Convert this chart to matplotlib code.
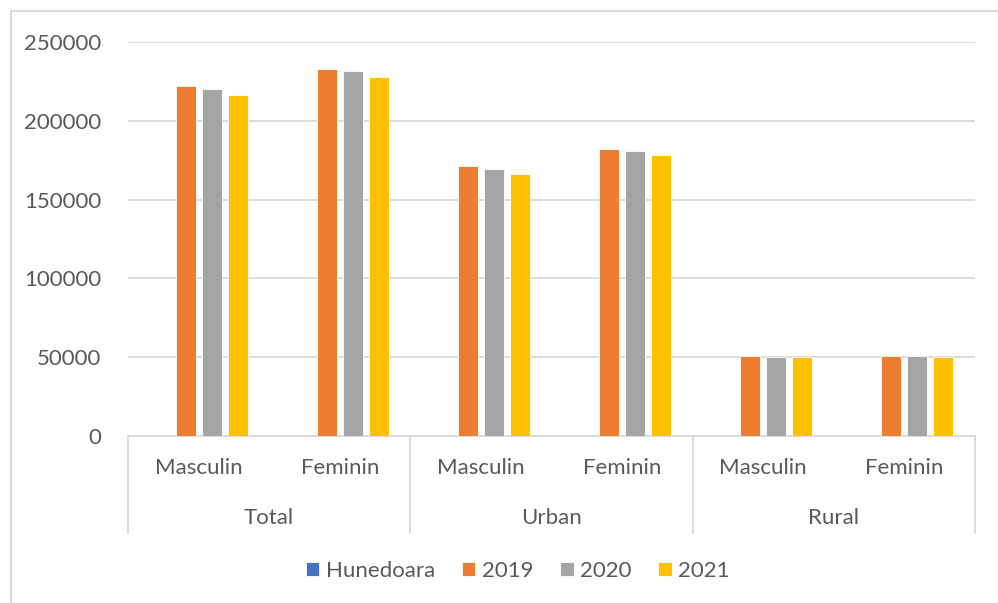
import matplotlib
matplotlib.use("Agg")
import matplotlib.pyplot as plt
from matplotlib.lines import Line2D
import numpy as np

plt.rcParams['font.family'] = ['Lato', 'DejaVu Sans']

sub_labels = ["Masculin", "Feminin", "Masculin", "Feminin", "Masculin", "Feminin"]
group_labels = ["Total", "Urban", "Rural"]
series_names = ["Hunedoara", "2019", "2020", "2021"]
hunedoara = [0, 0, 0, 0, 0, 0]
v2019 = [222000, 233000, 171300, 182300, 51000, 51000]
v2020 = [220300, 231400, 169600, 180600, 50200, 50900]
v2021 = [216200, 228000, 166200, 178100, 49900, 50100]
yticks = [0, 50000, 100000, 150000, 200000, 250000]

colors = ["#4472C4", "#ED7D31", "#A5A5A5", "#FFC000"]
txt = "#595959"
grid = "#d9d9d9"
fs = 16

W, H = 998, 603
fig = plt.figure(figsize=(W / 100, H / 100), dpi=100)
left, right, top, bot = 128, 975, 42, 436
ax = fig.add_axes([left / W, (H - bot) / H, (right - left) / W, (bot - top) / H])

x = np.arange(len(sub_labels))
step = 0.184
width = 0.142
all_series = [hunedoara, v2019, v2020, v2021]
for i, (vals, c, name) in enumerate(zip(all_series, colors, series_names)):
    ax.bar(x + (i - 1.5) * step, vals, width=width, color=c, label=name,
           edgecolor="white", linewidth=0.6, zorder=3)

ax.set_xlim(-0.5, len(sub_labels) - 0.5)
ax.set_ylim(0, 250000)
ax.set_yticks(yticks)
ax.set_yticklabels([str(v) for v in yticks], fontsize=fs, color=txt)
ax.tick_params(axis='y', length=0, pad=19)
ax.tick_params(axis='x', length=0, labelbottom=False)
ax.yaxis.grid(True, color=grid, linewidth=1.3, zorder=0)
for s in ["top", "right", "left"]:
    ax.spines[s].set_visible(False)
ax.spines["bottom"].set_color(grid)
ax.spines["bottom"].set_linewidth(1.3)

tr = ax.get_xaxis_transform()
ph = bot - top
sub_y = -(468 - bot) / ph
grp_y = -(518 - bot) / ph
line_y = -(533 - bot) / ph
for xi, lab in zip(x, sub_labels):
    ax.text(xi, sub_y, lab, transform=tr, ha="center", va="center", fontsize=fs, color=txt)
for gi, lab in enumerate(group_labels):
    ax.text(2 * gi + 0.5, grp_y, lab, transform=tr, ha="center", va="center", fontsize=fs, color=txt)
for xb in [-0.5, 1.5, 3.5, 5.5]:
    ax.add_line(Line2D([xb, xb], [0, line_y], transform=tr, color=grid, linewidth=1.3, clip_on=False))

handles, labels = ax.get_legend_handles_labels()
leg = fig.legend(handles, labels, loc="center", bbox_to_anchor=(518 / W, (H - 571) / H), ncol=4,
                 frameon=False, fontsize=fs, handlelength=0.6, handleheight=0.6,
                 handletextpad=0.3, columnspacing=1.2, labelcolor=txt)

fig.add_artist(Line2D([11 / W, 11 / W], [0, (H - 11) / H], transform=fig.transFigure, color=grid, linewidth=1.5))
fig.add_artist(Line2D([11 / W, 1], [(H - 11) / H, (H - 11) / H], transform=fig.transFigure, color=grid, linewidth=1.5))

fig.savefig("out.png", dpi=100, facecolor="white")
